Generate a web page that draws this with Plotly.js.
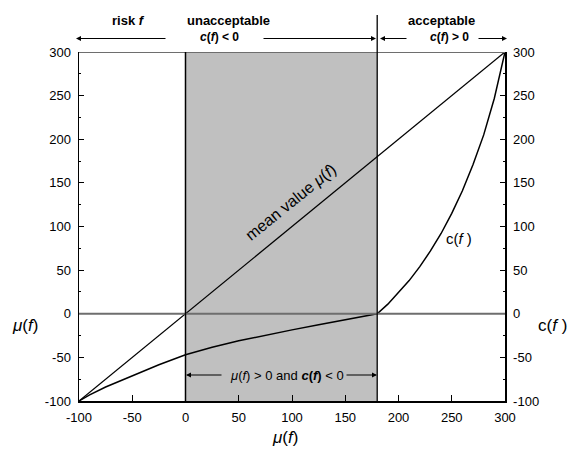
<!DOCTYPE html>
<html>
<head>
<meta charset="utf-8">
<script src="https://cdn.plot.ly/plotly-3.0.1.min.js"></script>
<style>html,body{margin:0;padding:0;background:#fff;}#chart{width:583px;height:452px;}</style>
</head>
<body>
<div id="chart"></div>
<script>
// Data
const meanX = [-100, 300];
const meanY = [-100, 300];
const costX = [-100, -90, -75, -50, -25, 0, 25, 50, 75, 100, 125, 150, 180, 190, 200, 210, 220, 230, 240, 250, 260, 270, 280, 290, 300];
const costY = [-100, -93, -84, -71, -58.5, -47, -38.5, -31, -24.5, -18.5, -12.5, -7, 0, 11, 24, 38, 54, 72, 92, 115, 141, 171, 205, 247, 300];
const tickVals = [-100, -50, 0, 50, 100, 150, 200, 250, 300];
const tickText = ['-100', '-50', '0', '50', '100', '150', '200', '250', '300'];
const regionStart = 0;
const regionEnd = 180;

const FONT = 'Liberation Sans, Arial, sans-serif';

const traces = [
  {x: meanX, y: meanY, mode: 'lines', line: {color: '#000', width: 1.3}, hoverinfo: 'skip', showlegend: false},
  {x: costX, y: costY, mode: 'lines', line: {color: '#000', width: 1.5}, hoverinfo: 'skip', showlegend: false},
  {x: [0], y: [0], yaxis: 'y2', mode: 'markers', marker: {opacity: 0}, hoverinfo: 'skip', showlegend: false}
];

const axBase = {
  range: [-100, 300], tickmode: 'array', tickvals: tickVals, ticktext: tickText,
  showgrid: false, zeroline: false, showline: true, linecolor: '#000',
  ticks: 'inside', tickcolor: '#000', tickfont: {family: FONT, size: 13, color: '#000'}
};

// helpers: place in page-pixel positions converted to paper coordinates
const px2x = px => (px - 79) / 426;
const px2y = py => (401 - py) / 349;
function pxLabel(px, py, text, size, extra) {
  return Object.assign({xref: 'paper', yref: 'paper', x: px2x(px), y: px2y(py),
    xanchor: 'center', yanchor: 'middle', text: text, showarrow: false, font: {size: size}}, extra || {});
}
function arrow(tipPx, py, ax) {
  return {xref: 'paper', yref: 'paper', x: px2x(tipPx), y: px2y(py), ax: ax, ay: 0, text: '', showarrow: true,
    arrowhead: 2, arrowsize: 1, arrowwidth: 1, arrowcolor: '#000'};
}

const layout = {
  width: 583, height: 452,
  margin: {l: 79, r: 78, t: 52, b: 51},
  paper_bgcolor: '#fff', plot_bgcolor: '#fff',
  font: {family: FONT, color: '#000'},
  xaxis: Object.assign({}, axBase, {ticklen: 6, tickwidth: 1, linewidth: 2, ticklabelstandoff: 3}),
  yaxis: Object.assign({}, axBase, {ticklen: 5, tickwidth: 1, linewidth: 1.5, ticklabelstandoff: 4,
    minor: {dtick: 25, tick0: 0, ticks: 'inside', ticklen: 2, tickcolor: '#000', tickwidth: 1}}),
  yaxis2: Object.assign({}, axBase, {overlaying: 'y', side: 'right', ticklen: 5, tickwidth: 1, linewidth: 1.5, ticklabelstandoff: 4,
    minor: {dtick: 25, tick0: 0, ticks: 'inside', ticklen: 2, tickcolor: '#000', tickwidth: 1}}),
  shapes: [
    {type: 'rect', xref: 'x', yref: 'y', x0: regionStart, x1: regionEnd, y0: -100, y1: 300, fillcolor: '#c0c0c0', line: {width: 0}, layer: 'below'},
    {type: 'line', xref: 'x', yref: 'y', x0: -100, x1: 300, y0: 300, y1: 300, line: {color: '#6e6e6e', width: 2}},
    {type: 'line', xref: 'x', yref: 'y', x0: -100, x1: 300, y0: 0, y1: 0, line: {color: '#6e6e6e', width: 2}},
    {type: 'line', xref: 'x', yref: 'y', x0: regionStart, x1: regionStart, y0: -100, y1: 300, line: {color: '#000', width: 1.5}},
    {type: 'line', xref: 'x', yref: 'paper', x0: regionEnd, x1: regionEnd, y0: 0, y1: 1.106, line: {color: '#000', width: 1.3}}
  ],
  annotations: [
    // top labels
    pxLabel(128, 21, '<b>risk <i>f</i></b>', 13),
    pxLabel(228, 21, '<b>unacceptable</b>', 13),
    pxLabel(219, 37, '<b><i>c</i>(<i>f</i>) &lt; 0</b>', 12),
    pxLabel(441, 21, '<b>acceptable</b>', 13),
    pxLabel(449, 37, '<b><i>c</i>(<i>f</i>) &gt; 0</b>', 12),
    // top arrows
    arrow(76, 38.5, 91),
    arrow(376, 38.5, -114),
    arrow(380, 38.5, 28),
    arrow(507, 38.5, -30),
    // bottom region label and arrows
    arrow(186, 375, 37),
    arrow(377, 375, -32),
    pxLabel(287, 375, '<i>μ</i>(<i>f</i>) &gt; 0 and <b><i>c</i>(<i>f</i>)</b> &lt; 0', 13),
    // curve labels
    pxLabel(290, 202, 'mean value <i>μ</i>(<i>f</i>)', 16, {textangle: -39}),
    pxLabel(459, 238, 'c(<i>f</i> )', 15),
    // axis titles
    pxLabel(25, 325, '<i>μ</i>(<i>f</i>)', 17),
    pxLabel(552, 325, 'c(<i>f</i> )', 17),
    pxLabel(285, 437, '<i>μ</i>(<i>f</i>)', 17)
  ]
};

Plotly.newPlot('chart', traces, layout, {staticPlot: true, displayModeBar: false});
</script>
</body>
</html>
